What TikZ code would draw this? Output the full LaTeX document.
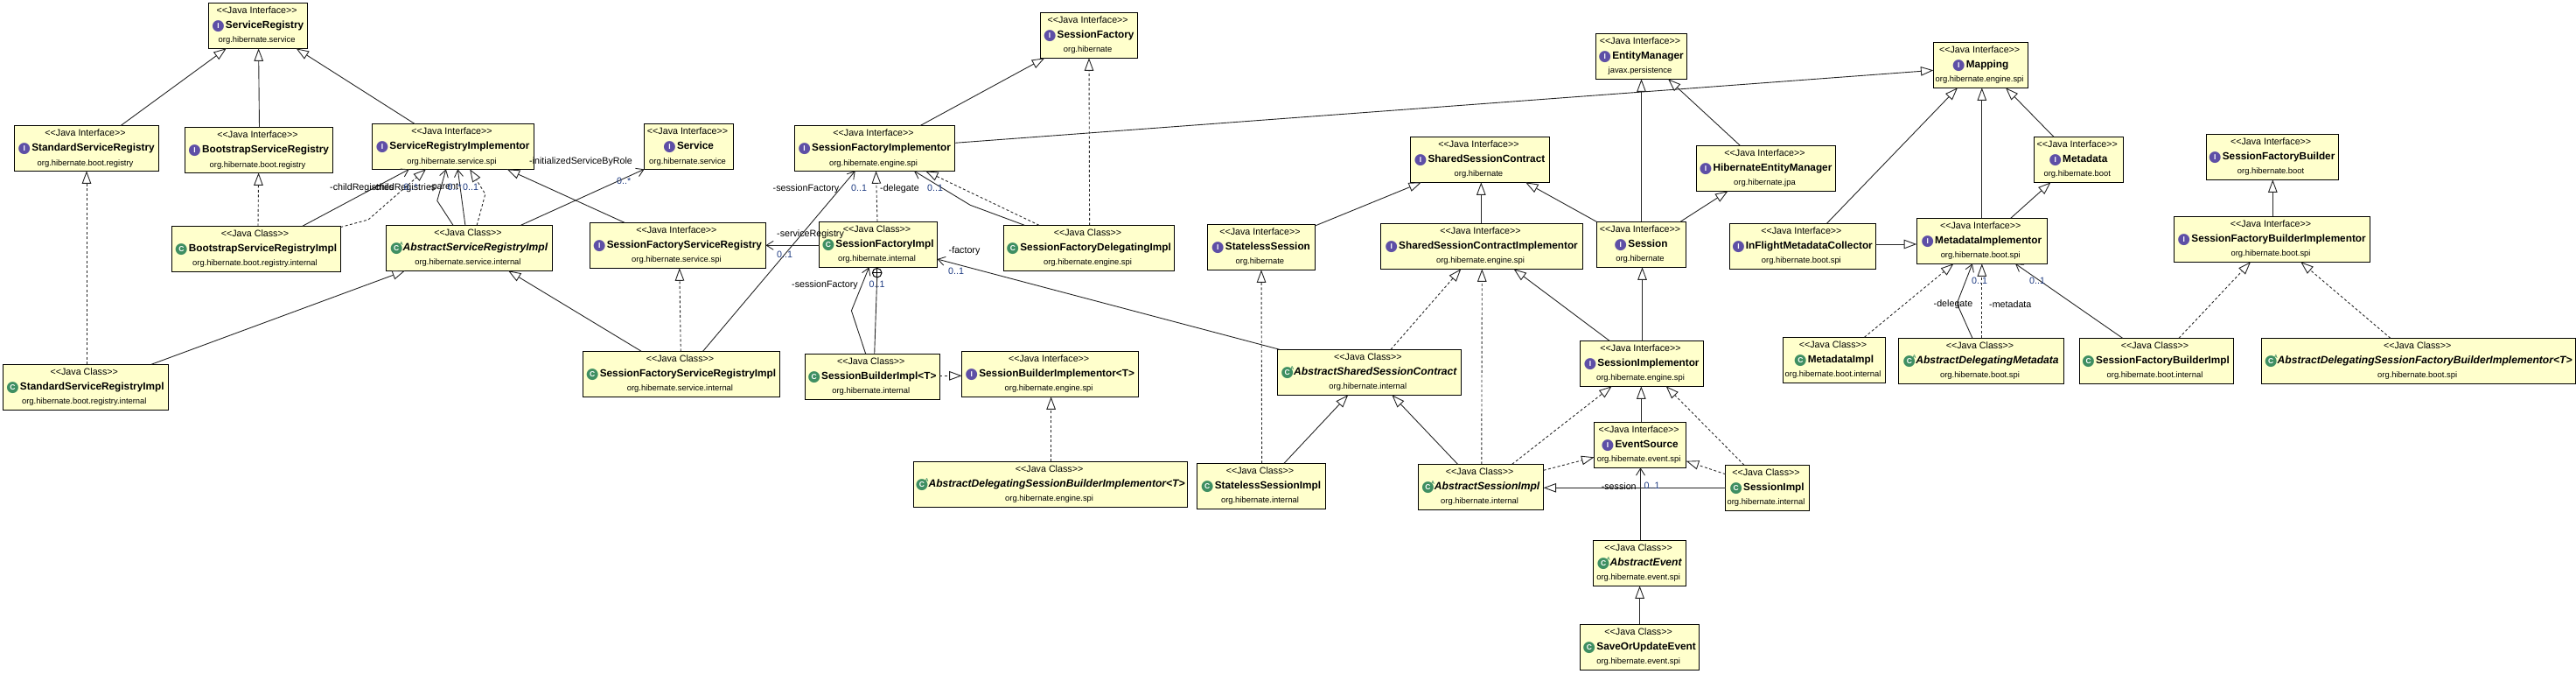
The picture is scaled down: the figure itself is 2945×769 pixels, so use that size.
\documentclass[tikz,border=0pt]{standalone}
\usepackage{fontspec}
\usetikzlibrary{arrows.meta}
\newfontfamily\uf{Liberation Sans}
\newfontfamily\djv{DejaVu Sans}
\definecolor{boxfill}{HTML}{FFFFCC}
\definecolor{icI}{HTML}{5E4FA6}
\definecolor{icC}{HTML}{3F8F62}
\definecolor{mult}{HTML}{1F3C82}
\newcommand\stfont{\uf\fontsize{10.7}{16.6}\selectfont}
\newcommand\nmfont{\uf\bfseries\fontsize{11.8}{16.6}\selectfont}
\newcommand\anfont{\uf\bfseries\itshape\fontsize{12.1}{16.6}\selectfont}
\newcommand\pkfont{\uf\fontsize{9.4}{16.6}\selectfont}
\newcommand\icn[2]{\makebox[13pt]{\raisebox{-1.9pt}{\makebox[0pt]{\djv\fontsize{17}{16.6}\selectfont\textcolor{#1}{●}}}\makebox[0pt]{\textcolor{white}{\uf\bfseries\upshape\fontsize{8.5}{16.6}\selectfont #2}}}}
\newcommand\icnA{\makebox[13pt]{\raisebox{-1.9pt}{\makebox[0pt]{\djv\fontsize{17}{16.6}\selectfont\textcolor{icC}{●}}}\makebox[0pt]{\textcolor{white}{\uf\bfseries\upshape\fontsize{8.5}{16.6}\selectfont C}}\makebox[0pt]{\hspace{11.4pt}\raisebox{6.2pt}{\textcolor{icC}{\uf\bfseries\upshape\fontsize{5.5}{16.6}\selectfont A}}}}}
\newcommand\umlI[7]{\node[umlbox,minimum width={#4-#2},minimum height={#5-#3}] (#1) at ({(#2+#4)/2},{(#3+#5)/2}) {{\stfont <<Java Interface>>\hspace*{3pt}}\\{\nmfont\icn{icI}{I}\hspace{2pt}#6}\\{\pkfont #7\hspace*{3pt}}};}
\newcommand\umlC[7]{\node[umlbox,minimum width={#4-#2},minimum height={#5-#3}] (#1) at ({(#2+#4)/2},{(#3+#5)/2}) {{\stfont <<Java Class>>\hspace*{3pt}}\\{\nmfont\icn{icC}{C}\hspace{2pt}#6}\\{\pkfont #7\hspace*{3pt}}};}
\newcommand\umlA[7]{\node[umlbox,minimum width={#4-#2},minimum height={#5-#3}] (#1) at ({(#2+#4)/2},{(#3+#5)/2}) {{\stfont <<Java Class>>\hspace*{3pt}}\\{\anfont\icnA\hspace{1pt}#6}\\{\pkfont #7\hspace*{3pt}}};}
\tikzset{
  umlbox/.style={draw=black,fill=boxfill,line width=1pt,inner sep=0pt,outer sep=0pt,align=center,anchor=center,font=\stfont},
  conn/.style={draw=black!85,line width=.9pt},
  gen/.style={conn,-{Triangle[open,length=14.5pt,width=10.5pt,fill=white]}},
  real/.style={gen,dash pattern=on 3pt off 2.5pt},
  assoc/.style={conn,-{Straight Barb[length=8pt,width=10pt]}},
  lab/.style={inner sep=0pt,font={\uf\fontsize{10.7}{13}\selectfont},text=black},
  mul/.style={lab,text=mult}
}
\begin{document}
\begin{tikzpicture}[x=1pt,y=-1pt]
\useasboundingbox (0,0) rectangle (2945,769);
\umlI{sr}{238.7}{3.3}{351.5}{55.3}{ServiceRegistry}{org.hibernate.service}
\umlI{ssr}{16.3}{143.7}{181.8}{195.3}{StandardServiceRegistry}{org.hibernate.boot.registry}
\umlI{bsr}{211.4}{145.7}{380.7}{197.3}{BootstrapServiceRegistry}{org.hibernate.boot.registry}
\umlI{sri}{425.7}{141.7}{610.3}{193.3}{ServiceRegistryImplementor}{org.hibernate.service.spi}
\umlC{bsri}{196.6}{258.3}{389.3}{310.3}{BootstrapServiceRegistryImpl}{org.hibernate.boot.registry.internal}
\umlA{asri}{441.5}{257.3}{631.4}{309.3}{AbstractServiceRegistryImpl}{org.hibernate.service.internal}
\umlI{sfsr}{674.4}{254.3}{875.4}{306.3}{SessionFactoryServiceRegistry}{org.hibernate.service.spi}
\umlI{svc}{736.6}{141.7}{838.5}{193.3}{Service}{org.hibernate.service}
\umlC{ssri}{3.3}{416.3}{192.3}{468.3}{StandardServiceRegistryImpl}{org.hibernate.boot.registry.internal}
\umlC{sfsri}{666.3}{401.3}{891.6}{453.3}{SessionFactoryServiceRegistryImpl}{org.hibernate.service.internal}
\umlI{sf}{1189.6}{14.3}{1300.6}{66.3}{SessionFactory}{org.hibernate}
\umlI{sfim}{908.4}{143.7}{1091.6}{195.3}{SessionFactoryImplementor}{org.hibernate.engine.spi}
\umlC{sfi}{936.6}{253.3}{1071.5}{305.3}{SessionFactoryImpl}{org.hibernate.internal}
\umlC{sfdi}{1147.5}{257.3}{1342.6}{309.3}{SessionFactoryDelegatingImpl}{org.hibernate.engine.spi}
\umlI{stls}{1380.4}{256.3}{1503.4}{308.3}{StatelessSession}{org.hibernate}
\umlC{sbi}{920.3}{404.3}{1074.3}{456.3}{SessionBuilderImpl<T>}{org.hibernate.internal}
\umlI{sbim}{1099.7}{401.3}{1301.5}{453.3}{SessionBuilderImplementor<T>}{org.hibernate.engine.spi}
\umlA{adsbi}{1044.7}{527.3}{1357.5}{579.3}{AbstractDelegatingSessionBuilderImplementor<T>}{org.hibernate.engine.spi}
\umlC{stlsi}{1368.5}{529.3}{1515.4}{581.3}{StatelessSessionImpl}{org.hibernate.internal}
\umlA{assc}{1460.3}{399.3}{1670.4}{451.3}{AbstractSharedSessionContract}{org.hibernate.internal}
\umlI{em}{1824.4}{38.3}{1928.6}{90.3}{EntityManager}{javax.persistence}
\umlI{ssc}{1612.5}{156.3}{1771.3}{208.3}{SharedSessionContract}{org.hibernate}
\umlI{hem}{1939.6}{166.3}{2098.4}{218.3}{HibernateEntityManager}{org.hibernate.jpa}
\umlI{ssci}{1578.5}{255.3}{1809.5}{307.3}{SharedSessionContractImplementor}{org.hibernate.engine.spi}
\umlI{ses}{1825.3}{253.3}{1927.7}{305.3}{Session}{org.hibernate}
\umlI{ifmc}{1977.4}{255.3}{2144.3}{307.3}{InFlightMetadataCollector}{org.hibernate.boot.spi}
\umlI{map}{2210.4}{48.3}{2318.8}{100.3}{Mapping}{org.hibernate.engine.spi}
\umlI{meta}{2325}{156.3}{2427.5}{208.3}{Metadata}{org.hibernate.boot}
\umlI{mim}{2191.2}{249.3}{2340.2}{301.3}{MetadataImplementor}{org.hibernate.boot.spi}
\umlI{sfb}{2522}{153.3}{2673.2}{205.3}{SessionFactoryBuilder}{org.hibernate.boot}
\umlI{sfbim}{2485.7}{247.3}{2709.4}{299.3}{SessionFactoryBuilderImplementor}{org.hibernate.boot.spi}
\umlI{sim}{1806.7}{389.3}{1947.3}{441.3}{SessionImplementor}{org.hibernate.engine.spi}
\umlC{mi}{2038.6}{385.3}{2155.4}{437.3}{MetadataImpl}{org.hibernate.boot.internal}
\umlA{adm}{2170.7}{386.3}{2359.3}{438.3}{AbstractDelegatingMetadata}{org.hibernate.boot.spi}
\umlI{evs}{1822.5}{482.3}{1927.7}{534.3}{EventSource}{org.hibernate.event.spi}
\umlA{asi}{1621.6}{530.3}{1764.6}{582.3}{AbstractSessionImpl}{org.hibernate.internal}
\umlC{simp}{1972.6}{531.3}{2068.3}{583.3}{SessionImpl}{org.hibernate.internal}
\umlA{ae}{1821.5}{617.3}{1927.7}{669.3}{AbstractEvent}{org.hibernate.event.spi}
\umlC{soue}{1806.7}{713.3}{1942.5}{765.3}{SaveOrUpdateEvent}{org.hibernate.event.spi}
\umlC{sfbi}{2377}{386.3}{2553}{438.3}{SessionFactoryBuilderImpl}{org.hibernate.boot.internal}
\umlA{adsfbi}{2585.9}{386.3}{2944.4}{438.3}{AbstractDelegatingSessionFactoryBuilderImplementor<T>}{org.hibernate.boot.spi}
% nested-class anchor
\node[draw=black,circle,line width=1pt,minimum size=10.5pt,inner sep=0pt,outer sep=0pt] (anch) at (1002.7,311.7) {};
\draw[line width=.8pt,black] (anch.north) -- (anch.south) (anch.west) -- (anch.east);
% connectors
\draw[gen] (ssr.north -| 137.8,0) -- (sr.south -| 258.8,0);
\draw[gen] (bsr.north -| 296.5,0) -- (sr.south -| 295.6,0);
\draw[gen] (sri.north -| 474.5,0) -- (sr.south -| 338.6,0);
\draw[real] (ssri.north -| 99,0) -- (ssr.south -| 99,0);
\draw[real] (bsri.north -| 295,0) -- (bsr.south -| 295.6,0);
\draw[assoc] (bsri.north -| 345.8,0) -- (sri.south -| 467.8,0);
\draw[real] (bsri.east |- 0,259.5) -- (421,251) -- (sri.south -| 487,0);
\draw[assoc] (asri.north -| 518,0) -- (499.8,229.3) -- (sri.south -| 509.9,0);
\draw[assoc] (asri.north -| 531.9,0) -- (sri.south -| 523.3,0);
\draw[real] (asri.north -| 545.2,0) -- (554.8,221.7) -- (sri.south -| 537.1,0);
\draw[gen] (sfsr.north -| 714,0) -- (sri.south -| 579.7,0);
\draw[assoc] (asri.north -| 595.4,0) -- (svc.south west);
\draw[gen] (ssri.north -| 173,0) -- (asri.south -| 463,0);
\draw[gen] (sfsri.north -| 733.2,0) -- (asri.south -| 581,0);
\draw[real] (sfsri.north -| 778.3,0) -- (sfsr.south -| 776.8,0);
\draw[assoc] (sfsri.north -| 803.6,0) -- (sfim.south -| 977.7,0);
\draw[assoc] (sfi.west |- 0,280.3) -- (sfsr.east |- 0,280.3);
\draw[real] (sfi.north -| 1003,0) -- (sfim.south -| 1001.5,0);
\draw[assoc] (sfdi.north -| 1171.3,0) -- (1109.2,234.3) -- (sfim.south -| 1045,0);
\draw[real] (sfdi.north -| 1188,0) -- (sfim.south -| 1058,0);
\draw[real] (sfdi.north -| 1245.6,0) -- (sf.south -| 1245,0);
\draw[gen] (sfim.north -| 1051.7,0) -- (sf.south -| 1194.3,0);
\draw[gen] (sfim.east |- 0,163.3) -- (map.west |- 0,80.3);
\draw[assoc] (sbi.north -| 989.7,0) -- (973.4,355) -- (sfi.south -| 993.5,0);
\draw[conn] (sbi.north -| 999.7,0) -- (anch.south);
\draw[real] (sbi.east |- 0,429.3) -- (sbim.west |- 0,429.3);
\draw[real] (adsbi.north -| 1201.6,0) -- (sbim.south -| 1201.6,0);
\draw[assoc] (assc.north -| 1463,0) -- (sfi.east |- 0,296);
\draw[real] (stlsi.north -| 1442.6,0) -- (stls.south -| 1442,0);
\draw[gen] (stls.east |- 0,258) -- (ssc.south -| 1625,0);
\draw[gen] (ssci.north -| 1693.3,0) -- (ssc.south -| 1693.3,0);
\draw[gen] (ses.north west) -- (ssc.south -| 1744,0);
\draw[gen] (ses.north -| 1876.5,0) -- (em.south -| 1876.5,0);
\draw[gen] (ses.north -| 1921,0) -- (hem.south -| 1975.5,0);
\draw[gen] (hem.north -| 1989.4,0) -- (em.south -| 1907,0);
\draw[gen] (ifmc.north -| 2088.4,0) -- (map.south -| 2238,0);
\draw[gen] (ifmc.east |- 0,279) -- (mim.west |- 0,279);
\draw[gen] (mim.north -| 2265.8,0) -- (map.south -| 2265.8,0);
\draw[gen] (mim.north -| 2298.7,0) -- (meta.south -| 2344.5,0);
\draw[gen] (meta.north -| 2347.9,0) -- (map.south -| 2293,0);
\draw[real] (mi.north -| 2131.4,0) -- (mim.south -| 2233.4,0);
\draw[assoc] (adm.north -| 2254.9,0) -- (2237.2,346.7) -- (mim.south -| 2254.9,0);
\draw[real] (adm.north -| 2265.8,0) -- (mim.south -| 2265.8,0);
\draw[assoc] (sfbi.north -| 2426.6,0) -- (mim.south -| 2304,0);
\draw[real] (sfbi.north -| 2491,0) -- (sfbim.south -| 2573,0);
\draw[real] (adsfbi.north -| 2732.8,0) -- (sfbim.south -| 2630.3,0);
\draw[gen] (sfbim.north -| 2598.3,0) -- (sfb.south -| 2598.3,0);
\draw[gen] (sim.north -| 1877.5,0) -- (ses.south -| 1877.5,0);
\draw[real] (assc.north -| 1590,0) -- (ssci.south -| 1670.3,0);
\draw[real] (asi.north -| 1693.8,0) -- (ssci.south -| 1694.3,0);
\draw[gen] (sim.north -| 1840,0) -- (ssci.south -| 1730.5,0);
\draw[gen] (stlsi.north -| 1468,0) -- (assc.south -| 1541.2,0);
\draw[gen] (asi.north -| 1666.5,0) -- (assc.south -| 1591.4,0);
\draw[real] (asi.north -| 1728.7,0) -- (sim.south -| 1842.6,0);
\draw[gen] (evs.north -| 1876.3,0) -- (sim.south -| 1876.3,0);
\draw[real] (simp.north -| 1994,0) -- (sim.south -| 1904.7,0);
\draw[real] (asi.east |- 0,537.3) -- (evs.west |- 0,522.3);
\draw[real] (simp.west |- 0,541.7) -- (evs.east |- 0,526.7);
\draw[gen] (simp.west |- 0,557.3) -- (asi.east |- 0,557.3);
\draw[assoc] (ae.north -| 1875.5,0) -- (evs.south -| 1875.5,0);
\draw[gen] (soue.north -| 1874.6,0) -- (ae.south -| 1874.6,0);
% labels
\node[lab,anchor=west] (l1) at (377,214.5) {-childRegistries};
\node[lab,anchor=west] (l2) at (425,214.5) {-childRegistries};
\node[mul,anchor=west] (m1) at (461.5,214) {0..*};
\node[lab,anchor=west] (l3) at (490,214.5) {-parent};
\node[mul,anchor=west] (m2) at (511.5,214) {0..*};
\node[mul,anchor=west] (m3) at (529,214) {0..1};
\node[lab,anchor=west] (l4) at (605,184.8) {-initializedServiceByRole};
\node[mul,anchor=west] (m4) at (705,207) {0..*};
\node[lab,anchor=west] (l5) at (883.5,216) {-sessionFactory};
\node[mul,anchor=west] (m5) at (973,215) {0..1};
\node[lab,anchor=west] (l6) at (888,268) {-serviceRegistry};
\node[mul,anchor=west] (m6) at (888,291) {0..1};
\node[lab,anchor=west] (l7) at (1006,216) {-delegate};
\node[mul,anchor=west] (m7) at (1060,215) {0..1};
\node[lab,anchor=west] (l8) at (905,326) {-sessionFactory};
\node[mul,anchor=west] (m8) at (993.5,325) {0..1};
\node[lab,anchor=west] (l9) at (1084.5,287) {-factory};
\node[mul,anchor=west] (m9) at (1084,310) {0..1};
\node[lab,anchor=west] (l10) at (2210.5,348) {-delegate};
\node[lab,anchor=west] (l11) at (2274,348) {-metadata};
\node[mul,anchor=west] (m10) at (2254,321) {0..1};
\node[mul,anchor=west] (m11) at (2320,321) {0..1};
\node[lab,anchor=west] (l12) at (1830.6,555.3) {-session};
\node[mul,anchor=west] (m12) at (1879.4,554.5) {0..1};
\end{tikzpicture}
\end{document}
